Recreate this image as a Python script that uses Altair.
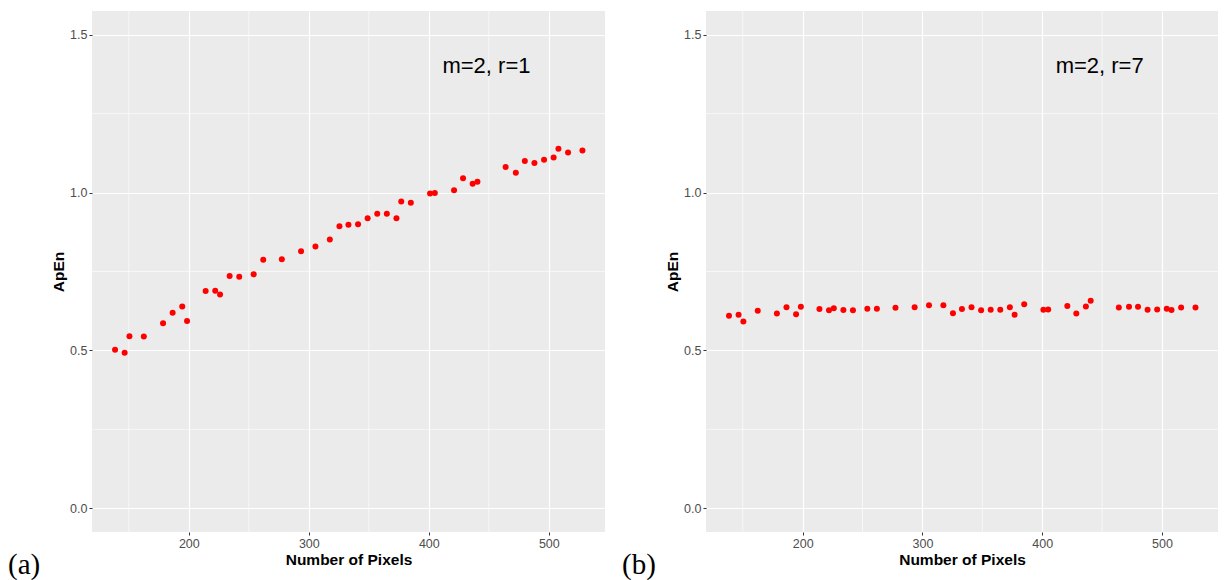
import altair as alt
import pandas as pd

# ---- data ----
pixels = [138.5, 146.5, 150.5, 162.5, 178.5, 186.5, 194.5, 198.5, 214, 222, 226,
          234, 242, 254, 262, 277.5, 293.5, 305.5, 317.5, 325.5, 333, 341, 349,
          357, 365, 373, 377, 385, 401, 405, 421, 428.5, 436.5, 440.5, 464,
          472.5, 480, 488, 496, 504, 508, 516, 528]

apen_r1 = [0.502, 0.493, 0.545, 0.544, 0.586, 0.619, 0.639, 0.593, 0.688, 0.689,
           0.677, 0.736, 0.733, 0.741, 0.787, 0.789, 0.814, 0.829, 0.851, 0.893,
           0.898, 0.900, 0.919, 0.933, 0.933, 0.919, 0.972, 0.968, 0.997, 0.999,
           1.007, 1.045, 1.028, 1.034, 1.081, 1.063, 1.100, 1.094, 1.104, 1.111,
           1.139, 1.127, 1.133]

apen_r7 = [0.610, 0.613, 0.592, 0.626, 0.617, 0.637, 0.615, 0.638, 0.631, 0.627,
           0.634, 0.628, 0.627, 0.632, 0.632, 0.635, 0.637, 0.643, 0.643, 0.618,
           0.631, 0.637, 0.627, 0.629, 0.629, 0.637, 0.613, 0.646, 0.629, 0.630,
           0.641, 0.617, 0.639, 0.657, 0.636, 0.638, 0.638, 0.629, 0.630, 0.632,
           0.628, 0.636, 0.636]

x_ticks = [200, 300, 400, 500]
x_minor = [150, 250, 350, 450]
y_ticks = [0.0, 0.5, 1.0, 1.5]
y_minor = [0.25, 0.75, 1.25]

panel_labels = ["(a)", "(b)"]
annotations = ["m=2, r=1", "m=2, r=7"]
annot_x = 448
annot_y = 1.40

X_DOMAIN = [119.3, 546.8]
Y_DOMAIN = [-0.075, 1.575]
SANS = "Liberation Sans"


def panel(values, annot, letter, width):
    df = pd.DataFrame({"pixels": pixels, "apen": values})
    xs = alt.Scale(domain=X_DOMAIN, nice=False, zero=False)
    ys = alt.Scale(domain=Y_DOMAIN, nice=False, zero=False)
    xaxis = alt.Axis(values=x_ticks, format="d", grid=True, titlePadding=3, labelPadding=2)
    yaxis = alt.Axis(values=y_ticks, format=".1f", grid=True, titlePadding=3, labelPadding=2)

    def X():
        return alt.X("pixels:Q", scale=xs, title="Number of Pixels", axis=xaxis)

    def Y():
        return alt.Y("apen:Q", scale=ys, title="ApEn", axis=yaxis)

    vminor = alt.Chart(pd.DataFrame({"pixels": x_minor})).mark_rule(
        color="white", strokeWidth=0.6
    ).encode(x=X())
    hminor = alt.Chart(pd.DataFrame({"apen": y_minor})).mark_rule(
        color="white", strokeWidth=0.6
    ).encode(y=Y())

    pts = alt.Chart(df).mark_circle(size=36, color="#FF0000", opacity=1).encode(
        x=X(), y=Y()
    )

    ann = alt.Chart(pd.DataFrame({"pixels": [annot_x], "apen": [annot_y], "t": [annot]})).mark_text(
        font=SANS, fontSize=22, color="black", align="center", baseline="middle"
    ).encode(x=X(), y=Y(), text="t:N")

    let = alt.Chart(pd.DataFrame({"t": [letter]})).mark_text(
        font="Liberation Serif", fontSize=29, color="black", align="left",
        baseline="alphabetic"
    ).encode(x=alt.value(-84), y=alt.value(563), text="t:N")

    return alt.layer(vminor, hminor, pts, ann, let).properties(width=width, height=521)


left = panel(apen_r1, annotations[0], panel_labels[0], 513)
right = panel(apen_r7, annotations[1], panel_labels[1], 512)

chart = alt.hconcat(left, right, spacing=16).properties(
    padding={"left": 8, "top": 10, "right": 0, "bottom": 0},
    background="white",
).configure_view(
    fill="#EBEBEB", stroke=None
).configure_axis(
    domain=False,
    gridColor="white",
    gridWidth=1.2,
    tickColor="#333333",
    tickSize=3,
    tickWidth=1,
    labelColor="#4D4D4D",
    labelFont=SANS,
    labelFontSize=12.5,
    titleFont=SANS,
    titleFontSize=15.5,
    titleFontWeight="bold",
    titleColor="black",
)

chart.save("out.html", embed_options={"renderer": "svg", "actions": False})
